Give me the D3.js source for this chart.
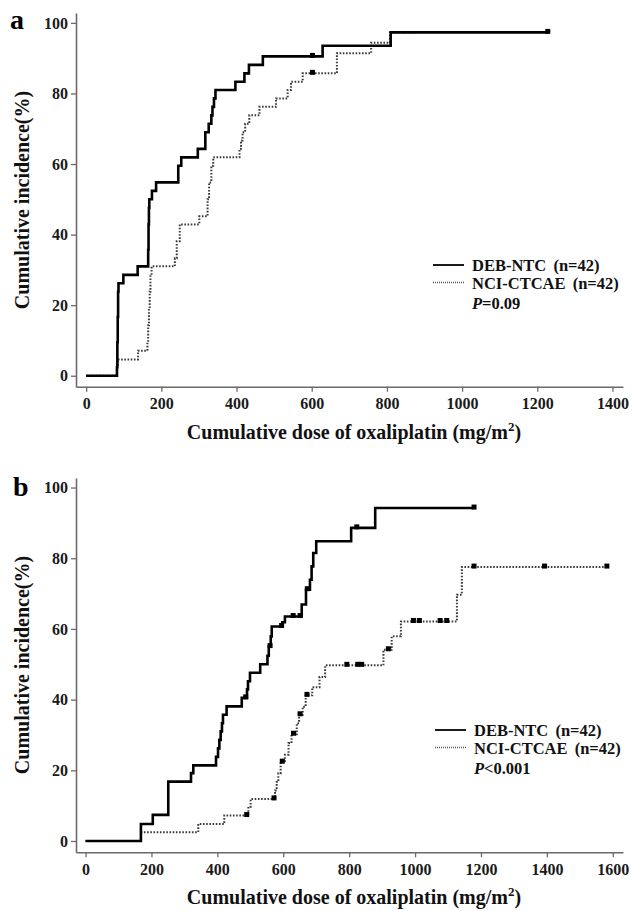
<!DOCTYPE html>
<html><head><meta charset="utf-8">
<script src="https://cdn.jsdelivr.net/npm/d3@7"></script>
<style>
html,body{margin:0;padding:0;background:#fff;}
svg{display:block;}
text{font-family:"Liberation Serif","Times New Roman",serif;font-weight:bold;}
</style></head>
<body>
<svg id="chart" width="632" height="911"></svg>
<script>
// ---------- DATA ----------
const yTicks = [0, 20, 40, 60, 80, 100];
const aXTicks = [0, 200, 400, 600, 800, 1000, 1200, 1400];
const bXTicks = [0, 200, 400, 600, 800, 1000, 1200, 1400, 1600];
const seriesNames = ["DEB-NTC (n=42)", "NCI-CTCAE (n=42)"];
const pValues = ["=0.09", "<0.001"];
const xTitle = "Cumulative dose of oxaliplatin (mg/m";
const yTitle = "Cumulative incidence(%)";

// Panel a: [dose, cumulative %] steps
const aDEB = [[0,0],[82,2.4],[83,9.5],[84,16.7],[85,23.8],[86,26.2],[99,28.6],[137,31.0],[165,35.7],[166,42.9],[167,47.6],[168,50.0],[175,52.4],[186,54.8],[245,59.5],[253,61.9],[297,64.3],[317,69.0],[326,71.4],[333,73.8],[336,76.2],[340,78.6],[344,81.0],[397,83.3],[421,85.7],[433,88.1],[470,90.5],[629,93.5],[810,97.3],[1228,97.3]];
const aNCI = [[0,0],[82,2.4],[84,4.6],[138,7.1],[163,9.5],[165,14.3],[167,19.0],[169,23.8],[171,28.6],[174,31.0],[236,33.3],[241,38.1],[249,42.9],[301,45.2],[323,50.0],[327,54.8],[333,59.5],[338,61.9],[408,64.3],[412,66.7],[416,69.0],[423,71.4],[434,73.8],[461,76.2],[505,78.6],[536,81.0],[545,83.3],[576,85.7],[667,91.4],[758,94.4],[808,97.3],[882,97.3]];
const aDEBCensor = [[602,90.5],[1228,97.3]];
const aNCICensor = [[602,85.7]];

// Panel b
const bDEB = [[0,0],[168,4.8],[204,7.4],[251,16.8],[320,19.2],[327,21.4],[396,23.8],[402,26.2],[406,28.6],[410,31.0],[414,33.3],[417,35.7],[428,38.1],[474,40.5],[490,42.9],[493,45.2],[499,47.6],[530,50.0],[552,52.4],[556,55.0],[562,57.9],[565,60.7],[597,61.9],[605,63.5],[656,66.9],[669,71.1],[681,73.9],[686,77.7],[691,81.5],[700,84.8],[806,88.6],[879,94.2],[1179,94.2]];
const bNCI = [[0,0],[168,2.5],[342,4.8],[421,7.2],[494,9.7],[501,11.9],[575,14.3],[580,16.7],[585,19.2],[592,22.3],[605,24.4],[616,27.7],[625,30.2],[641,33.3],[648,35.7],[659,38.0],[668,41.2],[688,43.5],[710,46.4],[727,49.7],[904,54.1],[929,57.9],[957,62.1],[1127,69.7],[1142,77.5],[1582,77.5]];
const bDEBCensor = [[486,40.5],[560,55.0],[595,60.7],[630,63.5],[651,63.5],[673,71.1],[823,88.6],[1179,94.2]];
const bNCICensor = [[489,7.2],[572,11.9],[597,22.3],[631,30.2],[651,35.7],[672,41.2],[793,49.7],[826,49.7],[838,49.7],[919,54.1],[995,62.1],[1013,62.1],[1076,62.1],[1096,62.1],[1179,77.5],[1393,77.5],[1582,77.5]];

// ---------- LAYOUT ----------
const panels = [
  {label:"a", xDomain:[-27,1428], yDomain:[-3.1,102.8], xRange:[76,623], yRange:[386.7,13],
   xTicks:aXTicks, deb:aDEB, nci:aNCI, debC:aDEBCensor, nciC:aNCICensor, p:pValues[0],
   labelPos:[10,29], xTitleY:439, yTitleX:29, yTitleY:200, legX:433, legY:265},
  {label:"b", xDomain:[-29,1631], yDomain:[-3.2,102.7], xRange:[76,623], yRange:[852.3,478],
   xTicks:bXTicks, deb:bDEB, nci:bNCI, debC:bDEBCensor, nciC:bNCICensor, p:pValues[1],
   labelPos:[13,496], xTitleY:904, yTitleX:29, yTitleY:665, legX:435, legY:730}
];

const svg = d3.select("#chart");
const axisColor = "#6a6a6a";

panels.forEach(P => {
  const g = svg.append("g");
  const x = d3.scaleLinear().domain(P.xDomain).range(P.xRange);
  const y = d3.scaleLinear().domain(P.yDomain).range(P.yRange);

  // axes
  const xAxis = g.append("g").attr("transform", `translate(0,${P.yRange[0]})`)
    .call(d3.axisBottom(x).tickValues(P.xTicks).tickFormat(d3.format("d")).tickSize(5).tickPadding(6).tickSizeOuter(0));
  const yAxis = g.append("g").attr("transform", `translate(${P.xRange[0]},0)`)
    .call(d3.axisLeft(y).tickValues(yTicks).tickFormat(d3.format("d")).tickSize(5).tickPadding(3).tickSizeOuter(0));
  [xAxis, yAxis].forEach(ax => {
    ax.select(".domain").attr("stroke", axisColor).attr("stroke-width", 1.6);
    ax.selectAll(".tick line").attr("stroke", axisColor).attr("stroke-width", 1.3);
    ax.selectAll(".tick text").attr("fill", "#1a1a1a")
      .style("font-family", '"Liberation Serif",serif').style("font-weight", "bold").style("font-size", "16px");
  });

  // step lines
  const line = d3.line().x(d => x(d[0])).y(d => y(d[1])).curve(d3.curveStepAfter);
  g.append("path").datum(P.nci).attr("d", line).attr("fill", "none")
    .attr("stroke", "#3a3a3a").attr("stroke-width", 2).attr("stroke-dasharray", "1.6,1.6");
  g.append("path").datum(P.deb).attr("d", line).attr("fill", "none")
    .attr("stroke", "#000").attr("stroke-width", 2.6);

  // censor marks
  const cs = 5;
  g.selectAll(".cn").data(P.nciC).enter().append("rect")
    .attr("x", d => x(d[0]) - cs/2).attr("y", d => y(d[1]) - cs/2 - 1)
    .attr("width", cs).attr("height", cs).attr("fill", "#000");
  g.selectAll(".cd").data(P.debC).enter().append("rect")
    .attr("x", d => x(d[0]) - cs/2).attr("y", d => y(d[1]) - cs/2 - 1)
    .attr("width", cs).attr("height", cs).attr("fill", "#000");

  // panel label
  g.append("text").attr("x", P.labelPos[0]).attr("y", P.labelPos[1])
    .style("font-size", "28px").attr("fill", "#000").text(P.label);

  // x title
  const xt = g.append("text").attr("x", 354).attr("y", P.xTitleY).attr("text-anchor", "middle")
    .style("font-size", "20px").attr("fill", "#111");
  xt.append("tspan").text(xTitle);
  xt.append("tspan").attr("dy", -8).style("font-size", "13px").text("2");
  xt.append("tspan").attr("dy", 8).text(")");

  // y title
  g.append("text").attr("transform", `translate(${P.yTitleX},${P.yTitleY}) rotate(-90)`)
    .attr("text-anchor", "middle").style("font-size", "20px").attr("fill", "#111").text(yTitle);

  // legend
  const lg = g.append("g").attr("transform", `translate(${P.legX},${P.legY})`);
  lg.append("line").attr("x1", 0).attr("x2", 31).attr("y1", 0).attr("y2", 0)
    .attr("stroke", "#000").attr("stroke-width", 1.8);
  lg.append("line").attr("x1", 0).attr("x2", 31).attr("y1", 17.5).attr("y2", 17.5)
    .attr("stroke", "#555").attr("stroke-width", 1.3).attr("stroke-dasharray", "1,1");
  seriesNames.forEach((s, i) => {
    lg.append("text").attr("x", 39).attr("y", i * 18 + 5.5).style("font-size", "16.5px")
      .style("word-spacing", "3px").attr("fill", "#111").text(s);
  });
  const pt = lg.append("text").attr("x", 39).attr("y", 2 * 18 + 8).style("font-size", "16.5px").attr("fill", "#111");
  pt.append("tspan").style("font-style", "italic").text("P");
  pt.append("tspan").text(P.p);
});
</script>
</body></html>
